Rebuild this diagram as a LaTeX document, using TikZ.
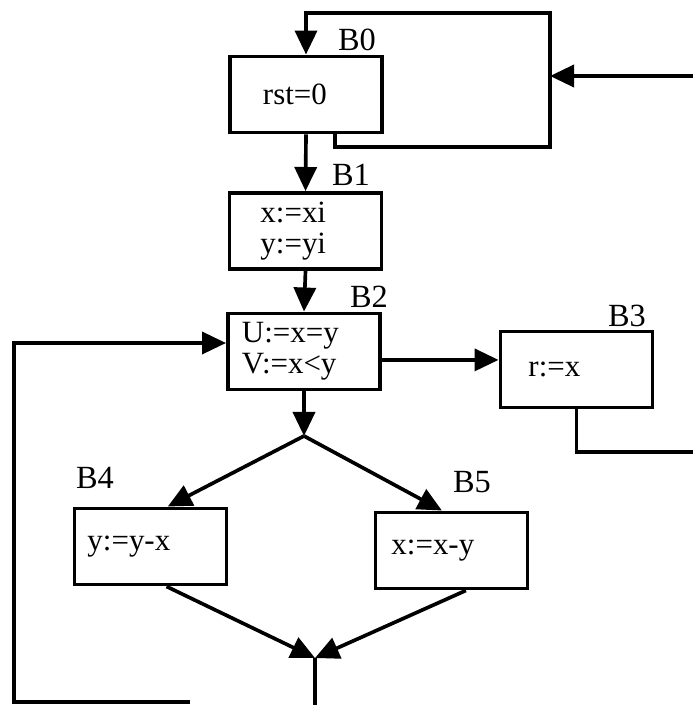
\documentclass[tikz,border=0pt]{standalone}
\usepackage{fontspec}
\setmainfont{Liberation Serif}
\usetikzlibrary{arrows.meta, positioning, calc}

\begin{document}
\begin{tikzpicture}[
    x=0.025cm, y=-0.025cm,
    line width=2.6pt,
    block/.style={draw, line width=2.8pt, minimum width=3.8cm, minimum height=1.9cm, inner ysep=0pt, align=left, font=\fontsize{22}{22}\selectfont},
    tag/.style={inner sep=0pt, font=\fontsize{23}{24}\selectfont},
    arrow/.style={-{Triangle[length=0.6cm, width=0.55cm]}}
]
    \useasboundingbox (0,0) rectangle (693,705);

    % Blocks
    \node[block, inner xsep=0.825cm, text width=2.15cm] (b0) at (306,94.5) {rst=0};
    \node[block, inner xsep=0.775cm, text width=2.25cm] (b1) at (305.5,231) {x:=xi\\y:=yi};
    \node[block, inner xsep=0.35cm, text width=3.1cm] (b2) at (304,351.5) {U:=x=y\\V:=x<y};
    \node[block, inner xsep=0.7cm, text width=2.4cm] (b3) at (576.5,369.5) {r:=x};
    \node[block, inner xsep=0.325cm, text width=3.15cm] (b4) at (150.5,546.5) {y:=y-x};
    \node[block, inner xsep=0.4cm, text width=3.0cm] (b5) at (451.5,550.5) {x:=x-y};

    % Block names
    \node[tag] (t0) at (357,40) {B0};
    \node[tag] (t1) at (351,175) {B1};
    \node[tag] (t2) at (369,297) {B2};
    \node[tag] (t3) at (627,316) {B3};
    \node[tag] (t4) at (95,478) {B4};
    \node[tag] (t5) at (472,482) {B5};

    % Corners and free ends
    \coordinate (in) at (693,76);
    \coordinate (r0) at (550,147);
    \coordinate (r1) at (550,13);
    \coordinate (out) at (693,452);
    \coordinate (split) at (304,436);
    \coordinate (merge) at (315,658);
    \coordinate (exit) at (315,705);
    \coordinate (foot) at (190,702);
    \coordinate (corner) at (14,343);

    % Arrows
    \draw[arrow] ([xshift=0.725cm]b0.south) |- (r0) -- (r1) -| (b0.north);
    \draw[arrow] (in) -- (in -| r0);
    \draw[arrow] (b0.south) -- (b1.north);
    \draw[arrow] (b1.south) -- (b2.north);
    \draw[arrow] ([yshift=-0.21cm]b2.east) -- ([yshift=-0.21cm]b2.east -| b3.west);
    \draw (b3.south) |- (out);
    \draw[arrow] (b2.south) -- (split);
    \draw[arrow] (split) -- ([xshift=0.43cm]b4.north);
    \draw[arrow] (split) -- ([xshift=-0.24cm]b5.north);
    \draw[arrow] ([xshift=0.4cm]b4.south) -- (merge);
    \draw[arrow] ([xshift=0.36cm]b5.south) -- (merge);
    \draw (merge) -- (exit);
    \draw[arrow] (foot) -| (corner) -- (corner -| b2.west);
\end{tikzpicture}
\end{document}
